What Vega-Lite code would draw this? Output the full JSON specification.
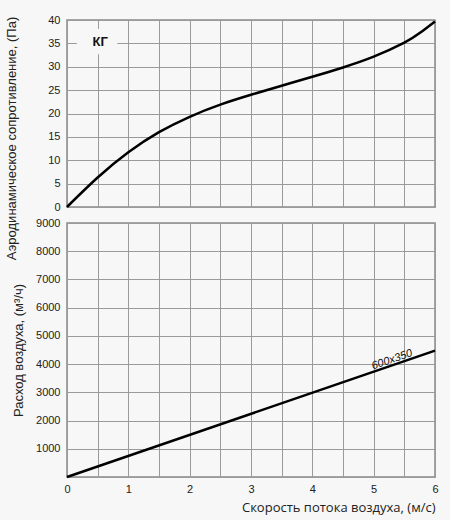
{
  "$schema": "https://vega.github.io/schema/vega-lite/v6.json",
  "background": "#f7f7f7",
  "padding": {"left": 5, "top": 13, "right": 10, "bottom": 5},
  "bounds": "flush",
  "spacing": 16,
  "config": {
    "view": {"stroke": "#8a8a8a", "strokeWidth": 1.5},
    "axis": {
      "grid": true,
      "gridColor": "#9a9a9a",
      "gridOpacity": 1,
      "gridWidth": 1,
      "domain": false,
      "ticks": false,
      "labelFont": "Liberation Sans",
      "labelFontSize": 11,
      "labelColor": "#222222",
      "labelPadding": 7,
      "titleFont": "Liberation Sans",
      "titleFontWeight": "normal",
      "titleFontSize": 13,
      "titleColor": "#222222"
    }
  },
  "vconcat": [
    {
      "width": 368,
      "height": 187,
      "layer": [
        {
          "data": {
            "values": [
              {"v": 0, "p": 0},
              {"v": 0.5, "p": 6.3},
              {"v": 1, "p": 11.7},
              {"v": 1.5, "p": 16.0},
              {"v": 2, "p": 19.3},
              {"v": 2.5, "p": 21.9},
              {"v": 3, "p": 24.0},
              {"v": 3.5, "p": 25.95},
              {"v": 4, "p": 27.85},
              {"v": 4.5, "p": 29.85},
              {"v": 5, "p": 32.15},
              {"v": 5.5, "p": 35.15},
              {"v": 5.75, "p": 37.2},
              {"v": 6, "p": 39.7}
            ]
          },
          "mark": {"type": "line", "color": "#000000", "strokeWidth": 2.5, "interpolate": "natural"},
          "encoding": {
            "x": {
              "field": "v",
              "type": "quantitative",
              "scale": {"domain": [0, 6], "nice": false},
              "axis": {"values": [0, 0.5, 1, 1.5, 2, 2.5, 3, 3.5, 4, 4.5, 5, 5.5, 6], "tickCount": 20, "labels": false, "title": null}
            },
            "y": {
              "field": "p",
              "type": "quantitative",
              "scale": {"domain": [0, 40], "nice": false},
              "axis": {
                "values": [0, 5, 10, 15, 20, 25, 30, 35, 40],
                "tickCount": 20,
                "title": "Аэродинамическое сопротивление, (Па)",
                "titlePadding": 29,
                "titleY": 118
              }
            }
          }
        },
        {
          "data": {"values": [{"x0": 0.16, "x1": 0.82, "y0": 32.7, "y1": 38.1}]},
          "mark": {"type": "rect", "color": "#f7f7f7"},
          "encoding": {
            "x": {"field": "x0", "type": "quantitative"},
            "x2": {"field": "x1"},
            "y": {"field": "y0", "type": "quantitative"},
            "y2": {"field": "y1"}
          }
        },
        {
          "data": {"values": [{"v": 0.54, "p": 35.3, "name": "КГ"}]},
          "mark": {"type": "text", "font": "Liberation Sans", "fontWeight": "bold", "fontSize": 13, "color": "#111111"},
          "encoding": {
            "x": {"field": "v", "type": "quantitative"},
            "y": {"field": "p", "type": "quantitative"},
            "text": {"field": "name"}
          }
        }
      ]
    },
    {
      "width": 368,
      "height": 254,
      "layer": [
        {
          "data": {"values": [{"v": 0, "q": 0}, {"v": 6, "q": 4480}]},
          "mark": {"type": "line", "color": "#000000", "strokeWidth": 2.5},
          "encoding": {
            "x": {
              "field": "v",
              "type": "quantitative",
              "scale": {"domain": [0, 6], "nice": false},
              "axis": {
                "values": [0, 0.5, 1, 1.5, 2, 2.5, 3, 3.5, 4, 4.5, 5, 5.5, 6],
                "tickCount": 20,
                "labelExpr": "datum.value % 1 === 0 ? format(datum.value, 'd') : ''",
                "labelFlush": false,
                "labelPadding": 6,
                "title": "Скорость потока воздуха, (м/с)",
                "titleFont": "Open Sans",
                "titleFontSize": 13,
                "titleAnchor": "end",
                "titlePadding": 7
              }
            },
            "y": {
              "field": "q",
              "type": "quantitative",
              "scale": {"domain": [0, 9000], "nice": false},
              "axis": {
                "values": [0, 1000, 2000, 3000, 4000, 5000, 6000, 7000, 8000, 9000],
                "tickCount": 20,
                "labelExpr": "datum.value === 0 ? '' : format(datum.value, 'd')",
                "title": "Расход воздуха, (м³/ч)",
                "titlePadding": 10
              }
            }
          }
        },
        {
          "data": {"values": [{"v": 5.3, "q": 4150, "name": "600x350"}]},
          "mark": {"type": "text", "font": "Liberation Sans", "fontStyle": "italic", "fontSize": 11, "angle": -19, "color": "#111111"},
          "encoding": {
            "x": {"field": "v", "type": "quantitative"},
            "y": {"field": "q", "type": "quantitative"},
            "text": {"field": "name"}
          }
        }
      ]
    }
  ]
}
